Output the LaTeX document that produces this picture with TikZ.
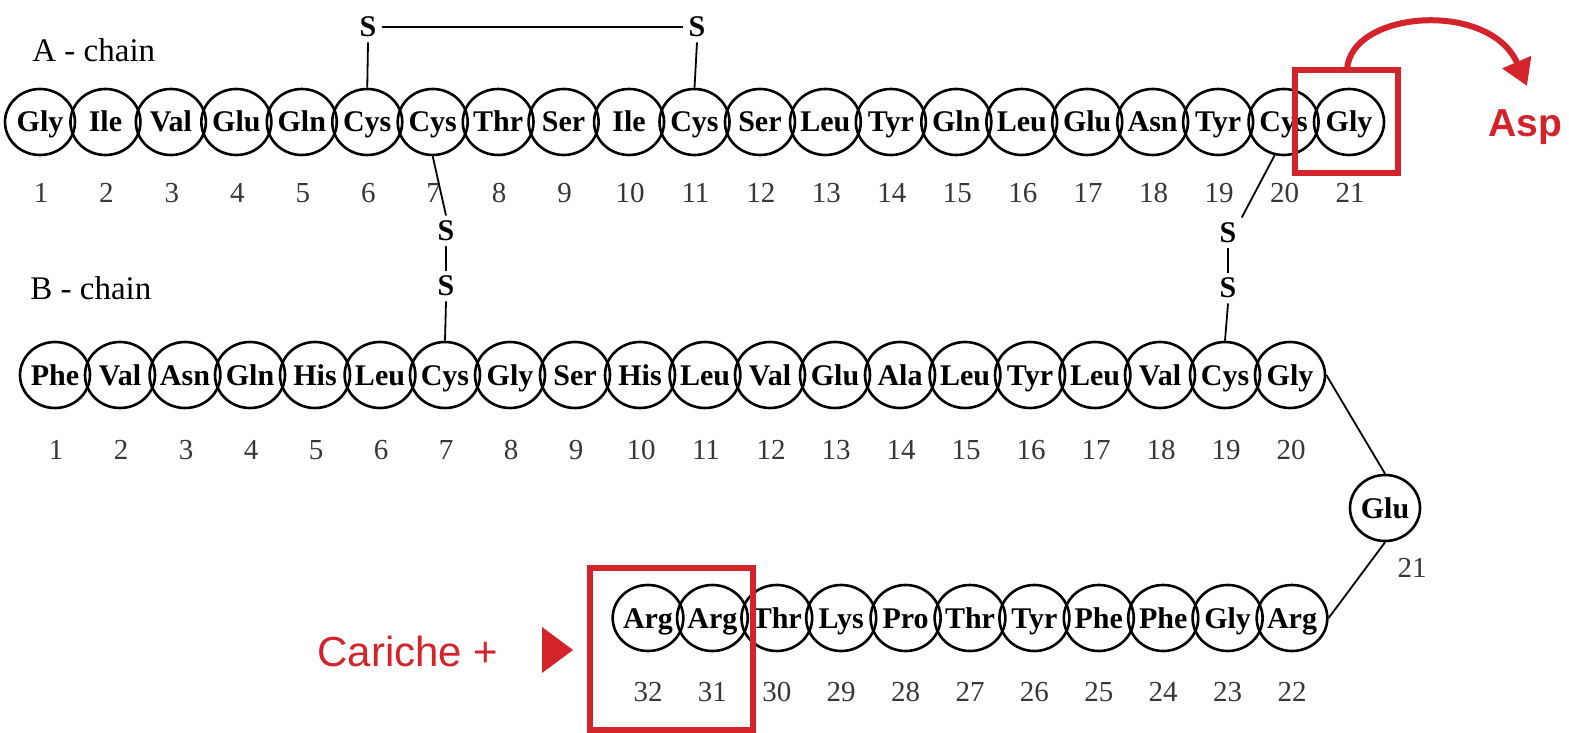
\documentclass[tikz,border=0pt]{standalone}
\usepackage{fontspec}
\setmainfont{Liberation Serif}
\newfontfamily\annfont{Liberation Sans}
\usetikzlibrary{arrows.meta,shapes.geometric}
\definecolor{annred}{RGB}{210,36,42}
\definecolor{numgray}{RGB}{55,55,55}
\tikzset{
  res/.style={ellipse, draw, line width=1.3pt, minimum width=35pt, minimum height=33pt, inner sep=0pt,
              font=\bfseries\fontsize{15}{15}\selectfont, text height=10pt, text depth=0pt},
  num/.style={inner sep=0pt, text=numgray, font=\fontsize{14.5}{14.5}\selectfont},
  sulf/.style={inner sep=2.5pt, font=\bfseries\fontsize{15}{15}\selectfont},
  bond/.style={line width=0.9pt},
  chainlabel/.style={inner sep=0pt, anchor=base west, font=\fontsize{16.5}{16.5}\selectfont},
  redbox/.style={draw=annred, line width=3pt},
}
\begin{document}
\begin{tikzpicture}[x=0.5pt, y=-0.5pt]
\useasboundingbox (0,0) rectangle (1569,733);
\fill[white] (0,0) rectangle (1569,733);

% chain labels
\node[chainlabel] (alabel) at (32,62) {A - chain};
\node[chainlabel] (blabel) at (30,299) {B - chain};

% A chain
\foreach \r [count=\i] in {Gly,Ile,Val,Glu,Gln,Cys,Cys,Thr,Ser,Ile,Cys,Ser,Leu,Tyr,Gln,Leu,Glu,Asn,Tyr,Cys,Gly} {
  \node[res] (a\i) at ({40+65.45*(\i-1)},122) {\r};
  \node[num] (na\i) at ({41+65.45*(\i-1)},193) {\i};
}

% B chain, upper row
\foreach \r [count=\i] in {Phe,Val,Asn,Gln,His,Leu,Cys,Gly,Ser,His,Leu,Val,Glu,Ala,Leu,Tyr,Leu,Val,Cys,Gly} {
  \node[res] (b\i) at ({55+65*(\i-1)},375) {\r};
  \node[num] (nb\i) at ({56+65*(\i-1)},450) {\i};
}

% B chain, turn
\node[res] (b21) at (1385,508) {Glu};
\node[num] (nb21) at (1412,568) {21};

% B chain, lower row (right to left)
\foreach \r [count=\j from 22] in {Arg,Gly,Phe,Phe,Tyr,Thr,Pro,Lys,Thr,Arg,Arg} {
  \node[res] (b\j) at ({1292-64.4*(\j-22)},618) {\r};
  \node[num] (nb\j) at ({1292-64.4*(\j-22)},692) {\j};
}

% backbone links around the turn
\draw[bond] (b20.east) -- (b21.north);
\draw[bond] (b21.south) -- (b22.east);

% disulfide A6-A11
\node[sulf] (s1) at (368,27) {S};
\node[sulf] (s2) at (697,27) {S};
\draw[bond] (s1.east) -- (s2.west);
\draw[bond] (s1.south) -- (a6.north);
\draw[bond] (s2.south) -- (a11.north);

% disulfide A7-B7
\node[sulf] (s3) at (446,231) {S};
\node[sulf] (s4) at (446,286) {S};
\draw[bond] (a7.south) -- (s3.north);
\draw[bond] (s3.south) -- (s4.north);
\draw[bond] (s4.south) -- (b7.north);

% disulfide A20-B19
\node[sulf] (s5) at (1228,233) {S};
\node[sulf] (s6) at (1228,288) {S};
\draw[bond] (a20.255) -- (s5.north east);
\draw[bond] (s5.south) -- (s6.north);
\draw[bond] (s6.south) -- (b19.north);

% annotation: substitution at A21
\draw[redbox] (1295,70) rectangle (1398,173);
\coordinate (boxtop) at (1347,70);
\node[inner sep=0pt, anchor=base west, text=annred, font=\annfont\bfseries\fontsize{19.5}{19.5}\selectfont] (asp) at (1488,137) {Asp};
\coordinate (asptip) at (1527,86);
\draw[annred, line width=3pt, -{Triangle[length=13pt,width=15pt]}]
  (boxtop) .. controls (1350,10) and (1490,0) .. (asptip);

% annotation: positive charges at B31-B32
\draw[redbox] (590,568) rectangle (753,730);
\node[inner sep=0pt, anchor=base west, text=annred, font=\annfont\fontsize{21}{21}\selectfont] (charges) at (317,666) {Cariche +};
\fill[annred] (542,627) -- (573,650) -- (542,673) -- cycle;
\end{tikzpicture}
\end{document}
